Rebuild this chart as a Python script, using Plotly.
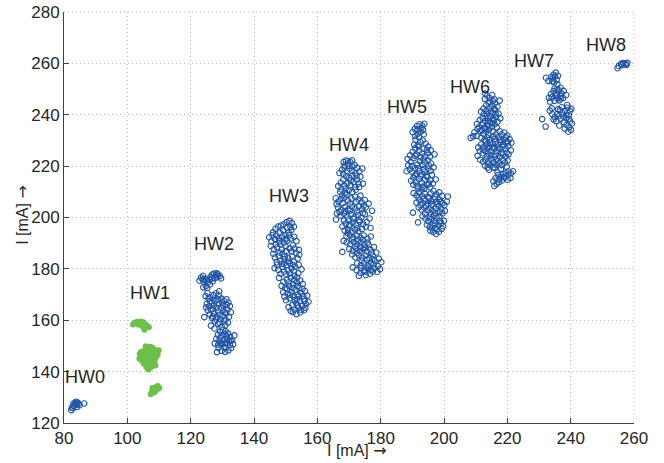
import plotly.graph_objects as go

# ---------------- data ----------------
hw0_x = [82.3, 82.8, 83.1, 83.4, 83.7, 84.0, 84.3, 84.6, 84.1, 83.0, 82.5, 85.0, 86.4, 83.8]
hw0_y = [125.0, 125.8, 126.6, 127.3, 127.8, 127.1, 128.0, 127.4, 126.2, 127.6, 126.0, 126.9, 127.6, 128.3]

hw1_pts = [
    (101.8,158.3),(102.4,159.0),(103.1,159.4),(103.8,159.1),(104.5,158.7),(105.1,159.2),(105.6,158.4),
    (106.2,157.9),(106.8,157.3),(104.9,157.6),(105.4,156.3),(103.6,158.2),(104.2,159.5),
    (104.2,146.0),(104.8,147.2),(105.3,148.1),(105.9,148.8),(106.6,149.4),(107.3,149.7),(108.0,149.2),
    (108.6,148.5),(109.2,147.7),(109.6,146.6),(109.0,145.5),(108.3,144.8),(107.6,145.9),(106.9,146.8),
    (106.2,147.5),(105.5,146.4),(104.9,145.3),(105.6,144.4),(106.3,143.6),(107.0,142.9),(107.8,143.4),
    (108.6,143.9),(105.2,143.1),(104.6,144.2),(103.8,145.0),(106.0,141.8),(106.6,140.8),(107.4,141.6),
    (108.9,142.4),(109.9,148.3),(107.9,147.3),(106.5,145.2),(105.8,149.9),(107.0,148.4),(104.3,147.6),
    (108.2,146.3),(106.1,144.9),(103.9,146.9),(107.2,144.1),
    (107.4,131.2),(107.8,132.3),(108.3,133.2),(108.9,133.9),(109.6,134.4),(110.1,133.6),(108.6,132.0),
    (107.9,133.6),(109.3,132.8),
]

hw2_pts = [
    (122.8,175.4),(123.3,176.6),(123.9,177.3),(124.2,174.9),(124.8,173.4),(125.4,174.6),(125.9,175.8),
    (126.3,176.9),(126.8,177.8),(127.4,178.2),(128.0,177.6),(128.6,177.9),(129.2,177.2),(129.6,176.3),
    (127.6,176.4),(126.1,173.9),(125.2,172.6),(127.0,175.2),(128.4,176.8),(124.6,176.1),
    (125.0,175.4),(126.8,176.3),(128.2,178.3),(123.8,175.8),(124.0,172.8),
    (124.7,169.4),(125.3,170.6),(126.2,168.9),(127.1,169.8),(128.0,170.5),(128.9,169.6),(129.7,168.4),
    (130.5,167.6),(131.3,168.2),(131.9,166.9),(132.4,165.5),(131.6,164.2),(130.8,163.0),(130.1,161.6),
    (131.0,160.3),(131.8,159.1),(130.9,158.0),(129.8,157.4),(128.7,158.5),(127.6,159.6),(126.8,160.8),
    (126.0,162.3),(125.4,163.8),(125.9,165.4),(126.7,166.8),(127.8,167.5),(128.9,166.2),(129.6,164.9),
    (128.6,163.4),(127.4,162.6),(128.2,161.1),(129.4,160.4),(127.0,164.6),(125.1,166.3),(126.4,157.9),
    (127.5,156.8),(130.3,165.9),(132.7,163.1),(124.3,161.2),(129.0,171.3),
    (126.5,164.1),(127.3,165.7),(128.1,164.9),(129.2,162.2),(130.3,163.8),(131.2,162.7),(128.5,168.2),
    (127.2,168.0),(129.9,166.9),(126.1,167.4),(128.0,160.3),(129.1,159.1),(130.6,159.6),(127.0,161.5),
    (131.4,166.0),(125.6,168.4),(124.9,165.0),(132.1,161.3),
    (127.6,151.0),(128.1,152.8),(128.6,154.4),(129.3,155.6),(130.1,156.3),(131.0,155.8),(131.8,154.9),
    (132.5,153.6),(133.1,152.2),(133.4,150.6),(132.8,149.2),(131.9,148.3),(130.9,147.7),(129.8,148.1),
    (128.8,149.2),(129.5,150.9),(130.4,152.3),(131.4,151.2),(132.1,151.8),(130.6,149.6),(129.2,153.1),
    (131.3,153.9),(133.8,154.1),(128.3,147.6),
    (129.0,151.8),(130.0,150.9),(130.8,151.0),(131.6,152.7),(132.4,150.4),(131.0,149.1),(129.9,153.9),
    (130.7,154.6),(132.6,152.0),(128.7,150.5),
]

hw3_pts = [
    (146.0,194.2),(146.8,195.6),(147.6,196.5),(148.5,196.9),(149.4,197.4),(150.3,198.2),(151.2,198.7),
    (152.0,197.8),(152.6,196.4),(151.8,195.2),(150.9,194.1),(149.9,193.3),(148.9,192.6),(147.8,192.0),
    (146.7,191.4),(145.5,190.7),(144.8,192.3),(145.3,188.9),(146.2,187.6),(147.3,188.4),(148.3,189.5),
    (149.4,190.2),(150.5,191.0),(151.6,191.8),(152.7,192.5),(153.4,190.8),(152.3,189.2),(151.2,188.0),
    (150.1,186.9),(149.0,185.8),(147.8,185.1),(146.6,184.4),(147.2,182.6),(148.4,183.1),(149.6,183.7),
    (150.8,184.3),(152.0,185.0),(153.3,186.2),(154.2,187.4),(153.8,184.0),(152.6,182.8),(151.4,182.1),
    (150.2,181.5),(148.9,180.8),(147.7,179.6),(146.5,180.3),
    (148.4,178.1),(149.5,178.9),(150.7,179.4),(151.9,180.2),(153.0,180.9),(154.1,181.6),(155.0,179.8),
    (154.0,178.3),(152.8,177.4),(151.6,176.6),(150.4,175.8),(149.3,175.0),(148.7,173.4),(149.9,172.6),
    (151.1,173.3),(152.3,174.0),(153.5,174.8),(154.6,175.5),(155.4,174.1),(154.3,172.6),(153.1,171.8),
    (151.9,171.0),(150.6,170.3),(149.6,169.2),(150.1,167.8),(151.3,168.5),(152.5,169.3),(153.7,170.0),
    (154.9,170.7),(156.1,171.4),(156.8,169.6),(155.7,168.3),(154.5,167.5),(153.3,166.7),(152.1,165.9),
    (150.9,165.1),(151.6,163.6),(152.8,164.2),(154.0,164.9),(155.2,165.6),(156.4,166.3),(155.8,163.9),
    (154.6,163.0),(153.4,162.4),(157.2,167.2),(147.9,176.5),(149.2,170.9),(153.6,168.2),
    (147.0,193.0),(148.2,194.1),(149.2,195.0),(150.4,196.0),(151.5,196.3),(148.0,190.7),(149.9,191.5),
    (151.1,193.1),(146.9,189.6),(148.8,187.6),(150.0,188.7),(151.9,186.8),(149.7,184.8),(148.1,186.4),
    (146.1,185.9),(152.8,187.9),(150.7,182.9),(149.4,182.0),(152.3,181.6),(150.1,177.9),(151.3,178.2),
    (152.6,179.1),(153.6,176.6),(150.9,174.7),(152.7,175.7),(150.4,172.1),(152.2,172.6),(153.8,173.4),
    (151.4,169.9),(155.3,172.2),(154.1,169.3),(152.9,167.9),(155.6,169.4),(153.8,165.8),(154.9,164.1),
    (152.3,163.1),(156.2,164.8),(148.8,181.9),(145.8,193.2),(154.3,185.5),(147.3,181.5),(156.0,167.6),
]

hw4_pts = [
    (168.3,221.6),(169.0,222.2),(169.7,222.0),(170.4,221.7),(171.0,222.3),(168.6,220.2),
    (167.0,217.3),(167.8,218.6),(168.6,219.4),(169.4,218.1),(170.2,219.0),(171.0,219.9),(171.8,220.4),
    (172.6,219.3),(173.3,218.0),(174.2,219.1),(172.0,217.2),(171.1,216.3),(170.1,215.5),(169.1,216.0),
    (168.2,214.8),(167.4,213.5),(166.6,212.2),(167.5,211.0),(168.5,212.4),(169.5,213.3),(170.5,212.6),
    (171.5,213.8),(172.5,214.7),(173.6,215.9),(174.4,213.2),(173.2,211.9),(172.1,210.8),(171.0,209.9),
    (169.9,210.4),(168.8,209.6),(167.8,208.6),
    (165.8,207.5),(166.7,206.3),(167.6,207.2),(168.6,207.8),(169.7,206.6),(170.8,207.4),(171.9,208.1),
    (173.0,207.0),(174.0,205.9),(175.0,206.8),(176.2,205.4),(175.3,204.0),(174.2,203.2),(173.1,204.4),
    (172.0,203.5),(170.9,204.2),(169.8,203.2),(168.7,204.1),(167.6,203.0),(166.5,204.0),(166.2,201.6),
    (167.3,200.8),(168.4,201.5),(169.5,200.4),(170.6,201.2),(171.7,200.1),(172.8,201.0),(173.9,200.0),
    (175.0,201.3),(176.5,199.6),(175.6,198.2),(174.5,197.4),(173.4,198.3),(172.3,197.1),(171.2,198.0),
    (170.1,196.8),(169.0,197.6),(167.9,196.5),(168.6,194.9),(169.7,195.2),(170.8,194.4),(171.9,195.3),
    (173.0,194.6),(174.1,195.5),(177.3,202.6),(165.9,199.2),(176.8,195.9),
    (169.2,192.7),(170.3,193.1),(171.4,192.2),(172.5,193.0),(173.6,192.1),(174.7,193.0),(175.8,191.8),
    (176.9,192.6),(175.9,190.2),(174.8,189.4),(173.7,190.3),(172.6,189.5),(171.5,190.4),(170.4,189.6),
    (169.3,190.3),(170.1,187.8),(171.2,187.0),(172.3,187.8),(173.4,186.9),(174.5,187.7),(175.6,186.8),
    (176.7,187.6),(177.9,188.5),(178.6,186.4),(177.5,185.1),(176.4,184.3),(175.3,185.2),(174.2,184.4),
    (173.1,185.3),(172.0,184.5),(171.0,185.6),(172.6,182.2),(173.7,181.4),(174.8,182.3),(175.9,181.5),
    (177.0,182.4),(178.1,183.2),(179.4,184.0),(180.2,182.6),(179.1,181.1),(178.0,180.3),(176.9,179.5),
    (175.8,180.1),(174.7,179.2),(173.6,178.4),(172.4,179.5),(171.2,180.6),(175.3,177.6),(176.6,178.1),
    (178.9,178.8),(168.3,190.9),(167.9,186.6),(179.8,179.9),(173.1,177.3),
    (168.2,217.0),(169.8,220.2),(170.9,218.1),(172.4,216.3),(168.9,211.2),(170.6,214.4),(171.9,211.9),
    (173.0,213.2),(167.2,209.9),(168.0,205.6),(169.2,208.9),(170.3,205.4),(172.3,206.1),(173.6,208.5),
    (174.6,204.6),(167.0,202.2),(168.9,202.5),(170.3,202.7),(172.5,202.3),(174.4,201.8),(168.4,198.8),
    (169.8,199.2),(171.3,199.4),(173.2,199.0),(170.2,197.3),(172.6,195.8),(175.3,196.4),(171.0,191.5),
    (172.9,191.1),(174.3,191.4),(176.2,189.2),(171.9,188.8),(173.6,188.4),(175.1,188.3),(177.1,186.4),
    (172.6,186.2),(174.0,183.2),(175.7,183.6),(177.4,183.8),(173.8,180.3),(176.2,180.9),(177.8,181.8),
    (175.1,178.9),(177.5,179.0),(169.6,193.9),(166.1,205.2),
]

hw5_pts = [
    (190.1,233.2),(190.8,234.5),(191.5,235.6),(192.3,236.3),(193.1,235.8),(193.8,236.5),(193.4,234.1),
    (192.6,233.3),(191.7,232.6),(190.9,231.7),(192.1,231.3),(193.6,232.4),
    (188.5,222.8),(189.3,224.2),(190.1,225.6),(190.9,226.9),(191.7,228.2),(192.5,229.4),(193.3,230.0),
    (194.2,228.8),(195.0,227.6),(195.8,226.2),(194.9,225.0),(194.0,223.8),(193.1,224.9),(192.2,226.0),
    (191.3,224.5),(190.4,223.1),(189.5,221.6),(188.7,220.3),(189.2,218.8),(190.0,217.6),(190.8,219.2),
    (191.6,220.6),(192.4,221.9),(193.2,220.5),(194.0,221.4),(194.9,222.3),(195.9,221.0),(196.7,219.5),
    (195.8,218.2),(194.9,219.0),(194.0,217.9),(193.1,216.8),(192.2,218.1),(191.3,216.9),(190.4,215.5),
    (189.6,214.3),(190.3,212.8),(191.2,213.7),(192.1,214.9),(193.0,213.6),(193.9,214.7),(194.8,215.7),
    (195.7,214.5),(196.5,213.2),(197.4,214.8),(195.6,211.8),(194.7,212.6),(193.8,211.4),(192.9,210.9),
    (191.9,211.3),(188.2,218.0),(197.0,224.6),(190.6,228.3),
    (190.4,209.5),(191.3,208.6),(192.2,209.8),(193.1,208.3),(194.0,209.2),(194.9,208.1),(195.8,209.4),
    (196.7,210.3),(197.6,209.0),(198.5,209.8),(199.4,208.4),(198.6,207.0),(197.7,206.1),(196.8,207.2),
    (195.9,206.3),(195.0,205.4),(194.1,206.5),(193.2,205.6),(192.3,206.7),(191.3,205.8),(192.0,203.9),
    (192.9,203.0),(193.8,203.9),(194.7,202.8),(195.6,203.6),(196.5,202.6),(197.4,203.5),(198.3,204.4),
    (199.2,203.2),(200.1,204.8),(200.9,206.2),(199.5,201.6),(198.6,200.6),(197.7,199.8),(196.8,200.7),
    (195.9,199.5),(195.0,198.6),(194.1,199.6),(193.2,200.5),(194.6,197.2),(195.5,196.3),(196.4,197.1),
    (197.3,196.0),(198.2,196.9),(199.1,197.8),(200.0,198.7),(199.3,195.6),(198.4,194.5),(197.5,193.6),
    (196.6,194.4),(195.7,194.9),(196.2,195.8),(190.2,201.9),(201.2,208.2),(191.8,198.1),
    (191.6,234.1),(192.9,234.9),(191.0,230.3),(192.0,227.6),(193.6,226.8),(194.6,226.4),(190.8,224.1),
    (192.6,223.4),(193.6,222.6),(195.6,223.7),(189.9,220.0),(191.9,219.2),(193.5,218.9),(195.2,220.2),
    (190.8,216.4),(192.6,216.0),(194.4,216.3),(196.2,216.6),(191.4,212.3),(193.3,212.0),(195.2,213.2),
    (192.0,207.9),(193.6,207.2),(195.4,207.6),(197.2,208.1),(198.9,206.1),(192.6,204.8),(194.4,204.5),
    (196.0,205.0),(197.9,205.2),(199.6,205.6),(194.0,201.6),(195.9,201.3),(197.2,201.7),(198.6,202.1),
    (200.3,202.6),(195.2,200.1),(196.9,198.8),(198.7,198.6),(197.8,195.4),(199.7,196.6),(197.1,197.7),
]

hw6_pts = [
    (212.9,246.2),(213.6,247.4),(214.4,246.5),(215.2,247.7),(215.9,246.0),(214.1,244.6),(213.3,243.7),
    (212.5,242.4),(211.7,241.2),(212.6,240.3),(213.4,241.5),(214.3,242.6),(215.2,243.5),(216.1,244.4),
    (216.9,243.1),(216.2,241.8),(215.4,240.6),(214.6,239.5),(213.8,238.7),(213.0,237.6),(212.2,238.8),
    (211.3,237.9),(210.4,236.4),(211.1,235.2),(212.0,236.1),(212.9,235.0),(213.7,236.2),(214.6,237.1),
    (215.5,238.3),(216.4,239.2),(217.2,240.4),(217.8,238.6),(216.9,237.3),(216.0,236.2),(215.1,235.3),
    (214.2,234.2),(213.3,233.4),(212.4,232.6),(211.5,233.6),(210.6,234.5),(209.6,233.2),(209.2,231.6),
    (210.3,231.8),(211.8,231.0),(217.6,245.5),(213.0,248.3),(208.4,231.0),
    (212.8,230.2),(213.7,231.1),(214.6,230.4),(215.5,231.6),(216.4,232.3),(217.3,231.4),(218.2,232.4),
    (219.1,233.1),(220.0,231.9),(220.7,230.5),(219.8,229.6),(218.9,230.2),(218.0,229.3),(217.1,228.5),
    (216.2,229.4),(215.3,228.6),(214.4,227.7),(213.5,228.5),(212.6,227.6),(211.7,228.4),(210.8,227.3),
    (211.3,225.9),(212.2,225.0),(213.1,225.8),(214.0,224.9),(214.9,225.9),(215.8,226.8),(216.7,225.9),
    (217.6,226.7),(218.5,227.6),(219.4,226.8),(220.3,227.8),(221.1,226.2),(220.4,224.6),(219.5,223.7),
    (218.6,224.5),(217.7,223.6),(216.8,222.8),(215.9,223.6),(215.0,222.7),(214.1,221.8),(213.2,222.6),
    (212.3,221.7),(211.4,222.5),(212.9,220.2),(213.8,219.4),(214.7,220.3),(215.6,219.6),(216.5,220.5),
    (217.4,221.2),(218.3,220.4),(219.2,221.3),(220.1,222.2),(214.2,218.6),(210.6,224.0),(221.3,229.1),
    (215.6,214.1),(216.3,215.3),(217.1,216.5),(217.9,215.6),(218.7,216.8),(219.5,217.4),(220.3,216.6),
    (221.1,217.2),(221.8,218.0),(221.0,215.4),(220.1,214.7),(219.2,215.5),(218.3,214.4),(217.4,213.8),
    (216.6,213.1),(215.9,212.3),(216.9,217.6),
    (214.4,245.1),(215.4,245.3),(213.6,240.2),(214.8,241.3),(215.8,242.2),(212.3,236.8),(213.9,237.5),
    (215.2,236.8),(216.3,240.5),(211.9,234.1),(213.1,234.4),(214.0,235.6),(215.8,237.8),(216.7,235.0),
    (214.1,232.2),(215.4,233.5),(217.6,233.6),(213.2,229.7),(214.6,229.1),(216.0,230.6),(217.8,230.2),
    (219.5,231.2),(212.5,226.4),(213.7,227.0),(215.3,227.2),(217.0,227.2),(218.8,228.4),(220.1,229.2),
    (213.6,223.8),(214.8,224.2),(216.2,224.5),(218.1,225.1),(219.8,225.2),(214.0,221.0),(215.5,221.3),
    (217.0,221.9),(218.7,222.3),(216.0,219.3),(218.0,219.0),(219.8,219.8),(217.3,214.9),(218.9,215.8),
    (220.4,217.9),
]

hw7_pts = [
    (232.2,254.4),(233.0,253.2),(233.9,254.8),(234.6,255.6),(235.3,256.4),(236.0,255.2),(235.6,253.6),
    (234.8,252.6),(235.8,251.9),(234.2,253.0),
    (233.1,246.6),(233.8,248.0),(234.6,249.2),(235.4,248.4),(236.2,249.6),(237.0,248.3),(237.8,249.3),
    (238.6,247.7),(237.6,246.5),(236.7,247.2),(235.8,246.3),(234.9,245.4),(234.0,246.8),(235.2,247.4),
    (236.4,245.6),(233.5,245.1),
    (231.0,238.3),(232.1,235.4),(233.4,241.6),(234.2,240.2),(235.0,239.1),(235.8,240.4),(236.6,241.8),
    (237.4,240.6),(238.2,241.5),(239.0,242.7),(239.8,241.4),(240.2,242.3),(239.4,239.8),(238.6,238.6),
    (237.8,239.3),(237.9,237.1),(238.7,236.0),(239.5,235.1),(240.1,234.1),(239.3,233.4),(238.1,234.6),
    (236.4,235.8),(235.4,237.5),(234.6,238.2),(239.8,237.4),(240.4,236.6),(236.9,238.5),
    (234.9,250.2),(235.7,249.9),(236.8,250.5),(235.7,247.6),(236.9,246.4),(234.0,242.5),(236.0,242.1),
    (237.2,242.9),(238.6,240.0),(236.2,239.4),(239.5,238.3),(238.9,243.8),(234.4,254.1),(235.1,254.9),
]

hw8_pts = [(254.8,258.1),(255.2,259.0),(255.9,259.8),(256.6,260.1),(257.3,259.7),(257.9,260.2),(257.6,259.4),(256.2,259.3)]

label_text = ["HW0", "HW1", "HW2", "HW3", "HW4", "HW5", "HW6", "HW7", "HW8"]
label_x = [86.6, 107.2, 127.4, 151.0, 170.0, 188.3, 208.2, 228.4, 251.1]
label_y = [138.0, 170.6, 189.7, 208.4, 228.2, 243.0, 250.8, 260.9, 267.2]

x_ticks = [80, 100, 120, 140, 160, 180, 200, 220, 240, 260]
y_ticks = [120, 140, 160, 180, 200, 220, 240, 260, 280]

axis_title = "I [mA] "

# ---------------- figure ----------------
BLUE = "#1f55a6"
GREEN = "#6cc04a"
FONT = "Liberation Sans, Arial, sans-serif"
TXT = "#262626"
GRID = "#bdbdbd"

fig = go.Figure()

blue_groups = [list(zip(hw0_x, hw0_y)), hw2_pts, hw3_pts, hw4_pts, hw5_pts, hw6_pts, hw7_pts, hw8_pts]
for pts in blue_groups:
    fig.add_trace(go.Scatter(
        x=[p[0] for p in pts], y=[p[1] for p in pts], mode="markers",
        marker=dict(symbol="circle-open", size=5.5, color=BLUE, line=dict(width=1.1, color=BLUE)),
        showlegend=False, hoverinfo="skip"))

fig.add_trace(go.Scatter(
    x=[p[0] for p in hw1_pts], y=[p[1] for p in hw1_pts], mode="markers",
    marker=dict(symbol="circle", size=6, color=GREEN, line=dict(width=0)),
    showlegend=False, hoverinfo="skip"))

for t, xx, yy in zip(label_text, label_x, label_y):
    fig.add_annotation(x=xx, y=yy, text=t, showarrow=False, xref="x", yref="y",
                       font=dict(family=FONT, size=18, color=TXT))

arrow = '<span style="font-family:DejaVu Sans">→</span>'
fig.add_annotation(x=0.514, y=-0.068, xref="paper", yref="paper", text=axis_title + arrow,
                   showarrow=False, xanchor="center", yanchor="middle",
                   font=dict(family=FONT, size=16, color=TXT))
fig.add_annotation(x=-0.074, y=0.506, xref="paper", yref="paper", text=axis_title + arrow,
                   showarrow=False, xanchor="center", yanchor="middle", textangle=-90,
                   font=dict(family=FONT, size=16, color=TXT))

axis_common = dict(
    showgrid=True, gridcolor=GRID, griddash="1px,3px", gridwidth=1,
    showline=True, linecolor="#404040", linewidth=1,
    ticks="inside", ticklen=5, tickcolor="#404040", tickwidth=1,
    tickfont=dict(family=FONT, size=17, color=TXT),
    zeroline=False, mirror=False, automargin=False,
)

fig.update_layout(
    width=664, height=463,
    margin=dict(l=64, r=30, t=12, b=40),
    paper_bgcolor="white", plot_bgcolor="white",
    xaxis=dict(range=[80, 260], tickvals=x_ticks, ticktext=[str(v) for v in x_ticks], **axis_common),
    yaxis=dict(range=[120, 280], tickvals=y_ticks, ticktext=[str(v) for v in y_ticks], **axis_common),
)

# dotted lines at top and right (grid at 280 and 260)
fig.add_shape(type="line", xref="paper", yref="paper", x0=0, x1=1, y0=1, y1=1,
              line=dict(color=GRID, width=1, dash="1px,3px"))
fig.add_shape(type="line", xref="paper", yref="paper", x0=1, x1=1, y0=0, y1=1,
              line=dict(color=GRID, width=1, dash="1px,3px"))

fig.write_html("out.html", config={"displayModeBar": False},
               post_script="document.body.style.margin='0px';document.body.style.padding='0px';document.body.style.overflow='hidden';")
